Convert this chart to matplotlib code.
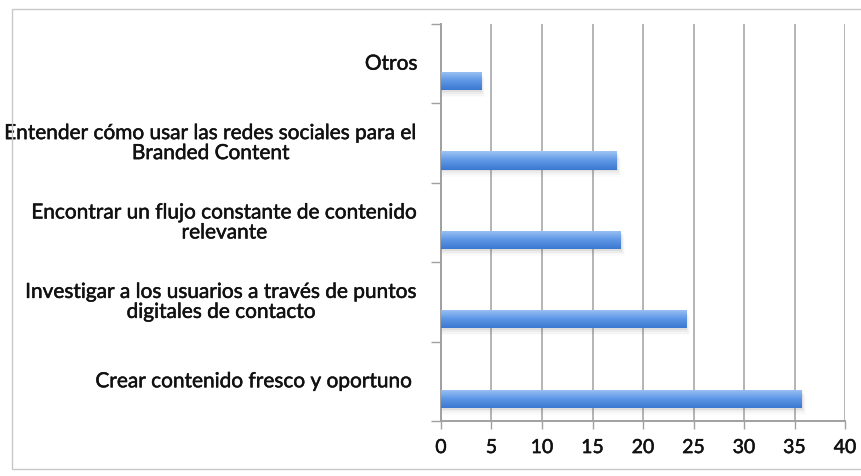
import numpy as np
import matplotlib.pyplot as plt
import matplotlib.patheffects as pe
from matplotlib.patches import Rectangle
from matplotlib.colors import LinearSegmentedColormap

# ---------------------------
# Datos
# ---------------------------
categorias = [
    "Crear contenido fresco y oportuno ",
    "Investigar a los usuarios a través de puntos\ndigitales de contacto",
    "Encontrar un flujo constante de contenido\nrelevante",
    "Entender cómo usar las redes sociales para el\nBranded Content",
    "Otros",
]
valores = [35.7, 24.3, 17.8, 17.4, 4.0]
xticks = np.arange(0, 41, 5)

plt.rcParams['font.family'] = ['Lato', 'DejaVu Sans']

fig = plt.figure(figsize=(8.62, 4.77), dpi=100)
W, H = 862, 477

# marco exterior (el borde derecho queda fuera de la imagen)
fig.patches.append(Rectangle((12 / W, 1 - 470 / H), 1.0, (470 - 10) / H,
                             transform=fig.transFigure, fill=False,
                             edgecolor='#c8c8c8', linewidth=1.0))

ax = fig.add_axes([441 / W, 1 - 422 / H, (845 - 441) / W, (422 - 25) / H])

pos = np.arange(len(categorias))
offset = -0.22
alto = 0.23

# sombra difusa bajo las barras
for i, v in enumerate(valores):
    for k, a in enumerate([0.09, 0.06, 0.04, 0.02]):
        d = 0.022 * (k + 1)
        ax.add_patch(Rectangle((0, pos[i] + offset - alto / 2 - d), v + 0.1 * (k + 1), alto,
                               facecolor='#606060', edgecolor='none', alpha=a, zorder=2))

barras = ax.barh(pos + offset, valores, height=alto, color='none', edgecolor='none', zorder=3)

# relleno degradado de cada barra
grad = np.linspace(0, 1, 64).reshape(-1, 1)
cmap = LinearSegmentedColormap.from_list('azul', ['#3b78d0', '#5e97e6', '#9fc4f4'])
for b in barras:
    x0, y0 = b.get_x(), b.get_y()
    im = ax.imshow(grad, cmap=cmap, aspect='auto', origin='lower',
                   extent=[x0, x0 + b.get_width(), y0, y0 + b.get_height()], zorder=3)
    im.set_clip_path(b)

trazo = [pe.withStroke(linewidth=0.35, foreground='#111111')]

ax.set_xlim(0, 40)
ax.set_ylim(-0.5, len(categorias) - 0.5)
ax.set_xticks(xticks)
ax.set_xticklabels([str(t) for t in xticks], fontsize=14, color='#111111',
                   path_effects=trazo)
ax.set_yticks(np.arange(-0.5, len(categorias), 1.0))
ax.set_yticklabels([])
ax.tick_params(axis='x', direction='out', length=6, width=1, color='#a0a0a0', pad=7)
ax.tick_params(axis='y', direction='out', length=7, width=1, color='#a0a0a0')

ax.grid(axis='x', color='#b4b4b4', linewidth=1.4)
ax.set_axisbelow(True)
for s in ['top', 'right']:
    ax.spines[s].set_visible(False)
for s in ['left', 'bottom']:
    ax.spines[s].set_color('#a0a0a0')
    ax.spines[s].set_linewidth(1.4)

# etiquetas de categoría
for i, c in enumerate(categorias):
    ax.text(-2.3, pos[i], c, ha='right', va='center', multialignment='center',
            fontsize=15, color='#111111', linespacing=1.0, path_effects=trazo)

fig.savefig('out.png', dpi=100)
